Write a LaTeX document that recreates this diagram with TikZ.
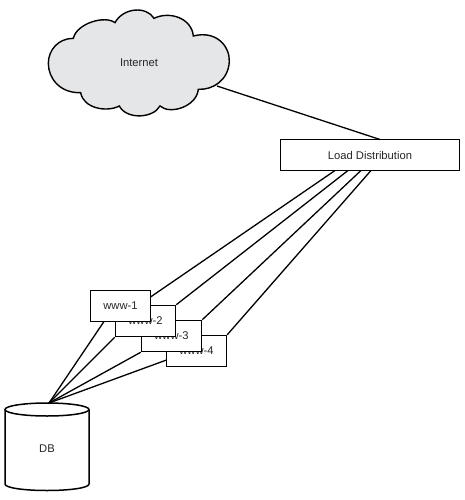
\documentclass[tikz,border=0pt]{standalone}
\usepackage{fontspec}
\setmainfont{Liberation Sans}
\definecolor{cloudgray}{RGB}{229,230,232}
\tikzset{
  every path/.style={line width=1.4pt},
  lbl/.style={font=\fontsize{11.2}{13}\selectfont, text=black!85},
  srv/.style={draw=black, fill=white, minimum width=60pt, minimum height=31pt, inner sep=0pt, lbl, line width=1.5pt},
  wire/.style={draw=black, line width=1.3pt}
}
\begin{document}
\begin{tikzpicture}[x=1pt,y=-1pt]
\useasboundingbox (0,0) rectangle (465,500);
% cloud
\begin{scope}[shift={(20,0)},x=0.3333pt,y=-0.3333pt]
\path[draw=black, fill=cloudgray, line width=1.4pt]
 (160,115) .. controls (170,70) and (255,45) .. (285,68)
 .. controls (310,22) and (380,18) .. (402,55)
 .. controls (450,32) and (515,55) .. (520,108)
 .. controls (590,90) and (630,140) .. (628,185)
 .. controls (625,240) and (580,270) .. (535,268)
 .. controls (530,320) and (450,345) .. (420,318)
 .. controls (400,355) and (320,360) .. (298,318)
 .. controls (260,338) and (190,325) .. (182,278)
 .. controls (120,280) and (85,235) .. (85,190)
 .. controls (85,150) and (115,115) .. (160,115) -- cycle;
\end{scope}
\node[lbl] (internet) at (139,63) {Internet};
\coordinate (cloudport) at (217,86);
% load distribution
\node[draw=black, fill=white, minimum width=179pt, minimum height=31pt, inner sep=0pt, lbl, line width=1.5pt] (lb) at (370,155) {Load Distribution};
\coordinate (lbtop) at (380,139.5);
\draw[wire] (cloudport) -- (lbtop);
% named wire ends
\coordinate (lb1) at (335,170.5);
\coordinate (lb2) at (348,170.5);
\coordinate (lb3) at (361,170.5);
\coordinate (lb4) at (371,170.5);
\coordinate (dbtop) at (49,403);
% servers, back to front
\node[srv] (w4) at (196.5,351) {www-4};
\node[srv] (w3) at (171.5,336) {www-3};
\node[srv] (w2) at (145.5,321) {www-2};
\node[srv] (w1) at (120.5,306) {www-1};
\coordinate (w1r) at (150.5,297);
\coordinate (w1b) at (104,321.5);
\coordinate (w4l) at (166.5,360);
\draw[wire] (lb1) -- (w1r);
\draw[wire] (lb2) -- (w2.north east);
\draw[wire] (lb3) -- (w3.north east);
\draw[wire] (lb4) -- (w4.north east);
% database
\draw[fill=white, line width=1.5pt] (5,409.5) -- (5,484)
  .. controls (5,488) and (25,490.5) .. (47,490.5)
  .. controls (69,490.5) and (89,488) .. (89,484) -- (89,409.5);
\draw[fill=white, line width=1.5pt] (47,409.5) ellipse [x radius=42, y radius=6.5];
\node[lbl] (db) at (47,449) {DB};
\draw[wire] (dbtop) -- (w1b);
\draw[wire] (dbtop) -- (w2.south west);
\draw[wire] (dbtop) -- (w3.south west);
\draw[wire] (dbtop) -- (w4l);
\end{tikzpicture}
\end{document}
